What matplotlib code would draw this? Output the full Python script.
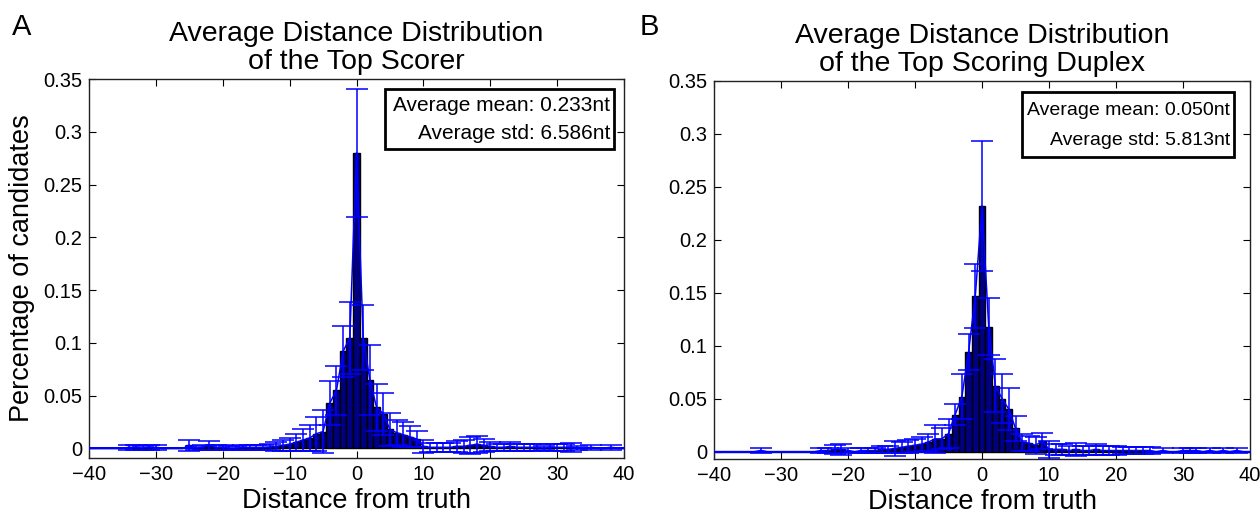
import numpy as np
import matplotlib
matplotlib.use("Agg")
import matplotlib.pyplot as plt
from matplotlib.patches import Rectangle

plt.rcParams['font.family'] = ['Liberation Sans', 'DejaVu Sans']

# ---------------- data ----------------
distance = list(range(-40, 41))

# Panel A: Top Scorer (fraction of candidates per distance bin)
top_scorer_mean = [
    0, 0, 0, 0, 0, 0, 0.001, 0.001, 0.0005, 0.001,            # -40..-31
    0.001, 0, 0, 0, 0, 0.003, 0.0005, 0.001, 0.003, 0.001,     # -30..-21
    0.001, 0.0005, 0.0005, 0.001, 0.001, 0.001, 0.001, 0.0015, 0.002, 0.003,  # -20..-11
    0.004, 0.006, 0.008, 0.010, 0.014, 0.016, 0.043, 0.055, 0.092, 0.105,     # -10..-1
    0.280,                                                     # 0
    0.105, 0.065, 0.039, 0.033, 0.018, 0.015, 0.013, 0.011, 0.009, 0.002,     # 1..10
    0.001, 0.001, 0.001, 0.001, 0.002, 0.002, 0.003, 0.004, 0.003, 0.002,     # 11..20
    0.001, 0.001, 0.002, 0.001, 0.001, 0.001, 0.001, 0.0005, 0.001, 0.001,    # 21..30
    0.001, 0.001, 0.0005, 0, 0.001, 0, 0, 0.001, 0, 0,         # 31..40
]
top_scorer_std = [
    0, 0, 0, 0, 0, 0, 0.002, 0.002, 0.002, 0.002,
    0.002, 0, 0, 0, 0, 0.005, 0.002, 0.002, 0.004, 0.002,
    0.002, 0.002, 0.002, 0.002, 0.002, 0.002, 0.002, 0.003, 0.004, 0.005,
    0.006, 0.008, 0.010, 0.012, 0.016, 0.020, 0.021, 0.023, 0.024, 0.034,
    0.061,
    0.031, 0.033, 0.022, 0.020, 0.016, 0.012, 0.012, 0.010, 0.008, 0.006,
    0.004, 0.004, 0.004, 0.004, 0.005, 0.006, 0.008, 0.008, 0.006, 0.004,
    0.003, 0.003, 0.004, 0.003, 0.003, 0.003, 0.003, 0.002, 0.003, 0.003,
    0.003, 0.004, 0.002, 0, 0.002, 0, 0, 0.002, 0, 0,
]

# Panel B: Top Scoring Duplex
duplex_mean = [
    0, 0, 0, 0, 0, 0, 0, 0.001, 0, 0,                          # -40..-31
    0, 0, 0, 0, 0, 0, 0.001, 0.001, 0.002, 0.002,              # -30..-21
    0.001, 0, 0.001, 0.001, 0.001, 0.002, 0.002, 0.003, 0.004, 0.005,        # -20..-11
    0.006, 0.007, 0.009, 0.012, 0.012, 0.017, 0.035, 0.052, 0.094, 0.147,    # -10..-1
    0.232,                                                     # 0
    0.118, 0.062, 0.050, 0.040, 0.022, 0.009, 0.008, 0.006, 0.010, 0.002,    # 1..10
    0.002, 0.002, 0.001, 0.002, 0.001, 0.001, 0.002, 0.001, 0.001, 0.001,    # 11..20
    0.001, 0.001, 0.001, 0.001, 0.001, 0, 0.001, 0, 0, 0.001,  # 21..30
    0.001, 0.001, 0, 0.001, 0, 0.001, 0, 0.001, 0, 0,          # 31..40
]
duplex_std = [
    0, 0, 0, 0, 0, 0, 0, 0.002, 0, 0,
    0, 0, 0, 0, 0, 0, 0.002, 0.002, 0.004, 0.005,
    0.002, 0, 0.002, 0.002, 0.002, 0.003, 0.003, 0.007, 0.005, 0.006,
    0.006, 0.007, 0.008, 0.013, 0.010, 0.014, 0.010, 0.021, 0.017, 0.030,
    0.061,
    0.027, 0.025, 0.023, 0.020, 0.012, 0.008, 0.007, 0.008, 0.008, 0.008,
    0.005, 0.005, 0.004, 0.006, 0.004, 0.004, 0.005, 0.004, 0.004, 0.004,
    0.003, 0.003, 0.003, 0.003, 0.003, 0, 0.002, 0, 0, 0.002,
    0.002, 0.002, 0, 0.002, 0, 0.002, 0, 0.002, 0, 0,
]

x_ticks = [-40, -30, -20, -10, 0, 10, 20, 30, 40]
y_ticks = [0, 0.05, 0.1, 0.15, 0.2, 0.25, 0.3, 0.35]
y_tick_labels = ['0', '0.05', '0.1', '0.15', '0.2', '0.25', '0.3', '0.35']

panels = [
    dict(letter='A', title='Average Distance Distribution\nof the Top Scorer',
         mean=top_scorer_mean, std=top_scorer_std,
         stats=['Average mean: 0.233nt', 'Average std: 6.586nt'],
         rect=[89, 79, 624, 458], ylim=(-0.009, 0.35),
         box=[385, 89, 614, 149], boxfs=15, ylabel=True, letter_x=12),
    dict(letter='B', title='Average Distance Distribution\nof the Top Scoring Duplex',
         mean=duplex_mean, std=duplex_std,
         stats=['Average mean: 0.050nt', 'Average std: 5.813nt'],
         rect=[714, 81, 1250, 459], ylim=(-0.007, 0.35),
         box=[1022, 92, 1234, 157], boxfs=14, ylabel=False, letter_x=640),
]

W, H = 1260, 518
fig = plt.figure(figsize=(W / 100, H / 100), dpi=100)

for p in panels:
    l, t, r, b = p['rect']
    ax = fig.add_axes([l / W, 1 - b / H, (r - l) / W, (b - t) / H])
    ax.bar(distance, p['mean'], width=1.0, color=(0, 0, 0.5),
           edgecolor='black', linewidth=1.0, zorder=2)
    ax.errorbar(distance, p['mean'], yerr=p['std'], color=(0, 0, 1),
                linewidth=1.1, elinewidth=1.1, capsize=8, capthick=1.1,
                zorder=3)
    ax.set_xlim(-40, 40)
    ax.set_ylim(*p['ylim'])
    ax.set_xticks(x_ticks)
    ax.set_yticks(y_ticks)
    ax.set_yticklabels(y_tick_labels)
    ax.tick_params(direction='in', length=5, width=0.8, top=True, right=True,
                   labelsize=14.5, pad=5, colors='black')
    for s in ax.spines.values():
        s.set_linewidth(1.0)
        s.set_color('#222222')
    ax.set_xlabel('Distance from truth', fontsize=19.5, labelpad=3)
    if p['ylabel']:
        ax.set_ylabel('Percentage of candidates', fontsize=19.5, labelpad=6)
    ax.set_title(p['title'], fontsize=20.5, pad=7, linespacing=1.1)

    bl, bt, br, bb = p['box']
    fig.add_artist(Rectangle((bl / W, 1 - bb / H), (br - bl) / W, (bb - bt) / H,
                             transform=fig.transFigure, fill=True,
                             facecolor='white', edgecolor='black',
                             linewidth=2.0, zorder=10))
    hgt = bb - bt
    fig.text((br - 4) / W, 1 - (bt + hgt * 0.28) / H, p['stats'][0],
             ha='right', va='center', fontsize=p['boxfs'], zorder=11)
    fig.text((br - 4) / W, 1 - (bt + hgt * 0.74) / H, p['stats'][1],
             ha='right', va='center', fontsize=p['boxfs'], zorder=11)

    fig.text(p['letter_x'] / W, 1 - 27 / H, p['letter'], fontsize=21,
             ha='left', va='center')

fig.savefig('out.png', dpi=100)
